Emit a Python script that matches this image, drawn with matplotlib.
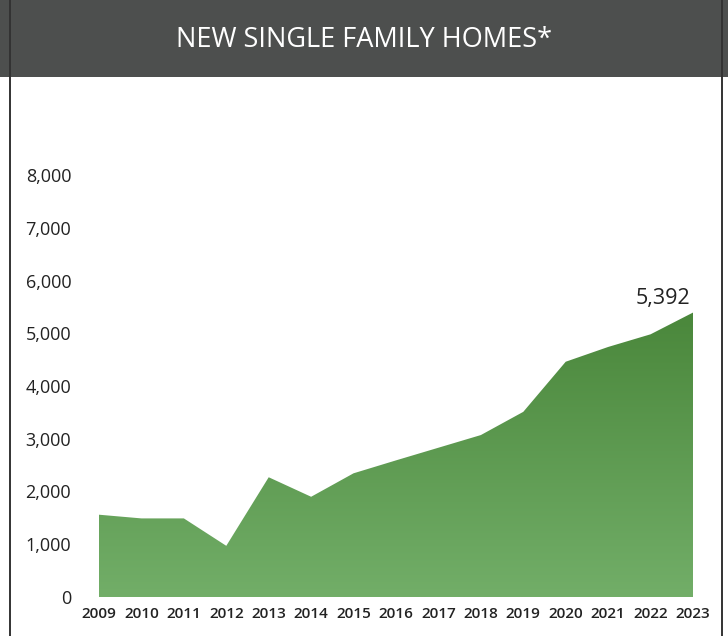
import numpy as np
import matplotlib
matplotlib.use("Agg")
import matplotlib.pyplot as plt
from matplotlib.colors import LinearSegmentedColormap
from matplotlib.patches import Rectangle
from matplotlib.lines import Line2D


years = [2009, 2010, 2011, 2012, 2013, 2014, 2015, 2016,
         2017, 2018, 2019, 2020, 2021, 2022, 2023]
homes = [1560, 1490, 1490, 970, 2270, 1900, 2345, 2590,
         2830, 3070, 3510, 4460, 4740, 4980, 5392]
y_ticks = [0, 1000, 2000, 3000, 4000, 5000, 6000, 7000, 8000]
title = "NEW SINGLE FAMILY HOMES*"

plt.rcParams['font.family'] = ['Open Sans', 'DejaVu Sans']

W, H = 728, 636
fig = plt.figure(figsize=(W / 100, H / 100), dpi=100)

# header bar and frame
fig.patches.append(Rectangle((0, 1 - 77 / H), 1, 77 / H, transform=fig.transFigure,
                             facecolor='#4d4f4e', edgecolor='none', zorder=0))
fig.lines.append(Line2D([10 / W, 10 / W], [0, 1], transform=fig.transFigure,
                        color='#333333', lw=1.4))
fig.lines.append(Line2D([722 / W, 722 / W], [0, 1], transform=fig.transFigure,
                        color='#333333', lw=1.4))
fig.text(0.5, 1 - 40 / H, title, color='white', fontsize=19.5,
         ha='center', va='center')

ax = fig.add_axes([99 / W, 1 - 597 / H, (693 - 99) / W, (597 - 175) / H])
ax.patch.set_alpha(0)

# gradient filled area
poly = ax.fill_between(years, homes, 0, color='none', lw=0)
cmap = LinearSegmentedColormap.from_list('g', ['#72ae68', '#4a873b'])
grad = np.linspace(0, 1, 256).reshape(-1, 1)
img = ax.imshow(grad, cmap=cmap, origin='lower', aspect='auto',
                extent=[years[0], years[-1], 0, max(homes)], zorder=1)
img.set_clip_path(poly.get_paths()[0], transform=ax.transData)
ax.set_xlim(years[0], years[-1])
ax.set_ylim(0, 8000)

ax.annotate(f"{homes[-1]:,}", (years[-1], homes[-1]), xytext=(-22, 10),
            textcoords='offset points', ha='center', va='center',
            fontsize=15.5, color='#222222')

for s in ax.spines.values():
    s.set_visible(False)
ax.set_xticks(years)
ax.set_xticklabels([str(y) for y in years], fontsize=11, color='#222222',
                   fontweight='semibold')
ax.set_yticks(y_ticks)
ax.set_yticklabels([f"{v:,}" for v in y_ticks], fontsize=13, color='#222222')
ax.tick_params(axis='x', length=0, pad=7)
ax.tick_params(axis='y', length=0, pad=20)

fig.savefig("out.png", dpi=100)
